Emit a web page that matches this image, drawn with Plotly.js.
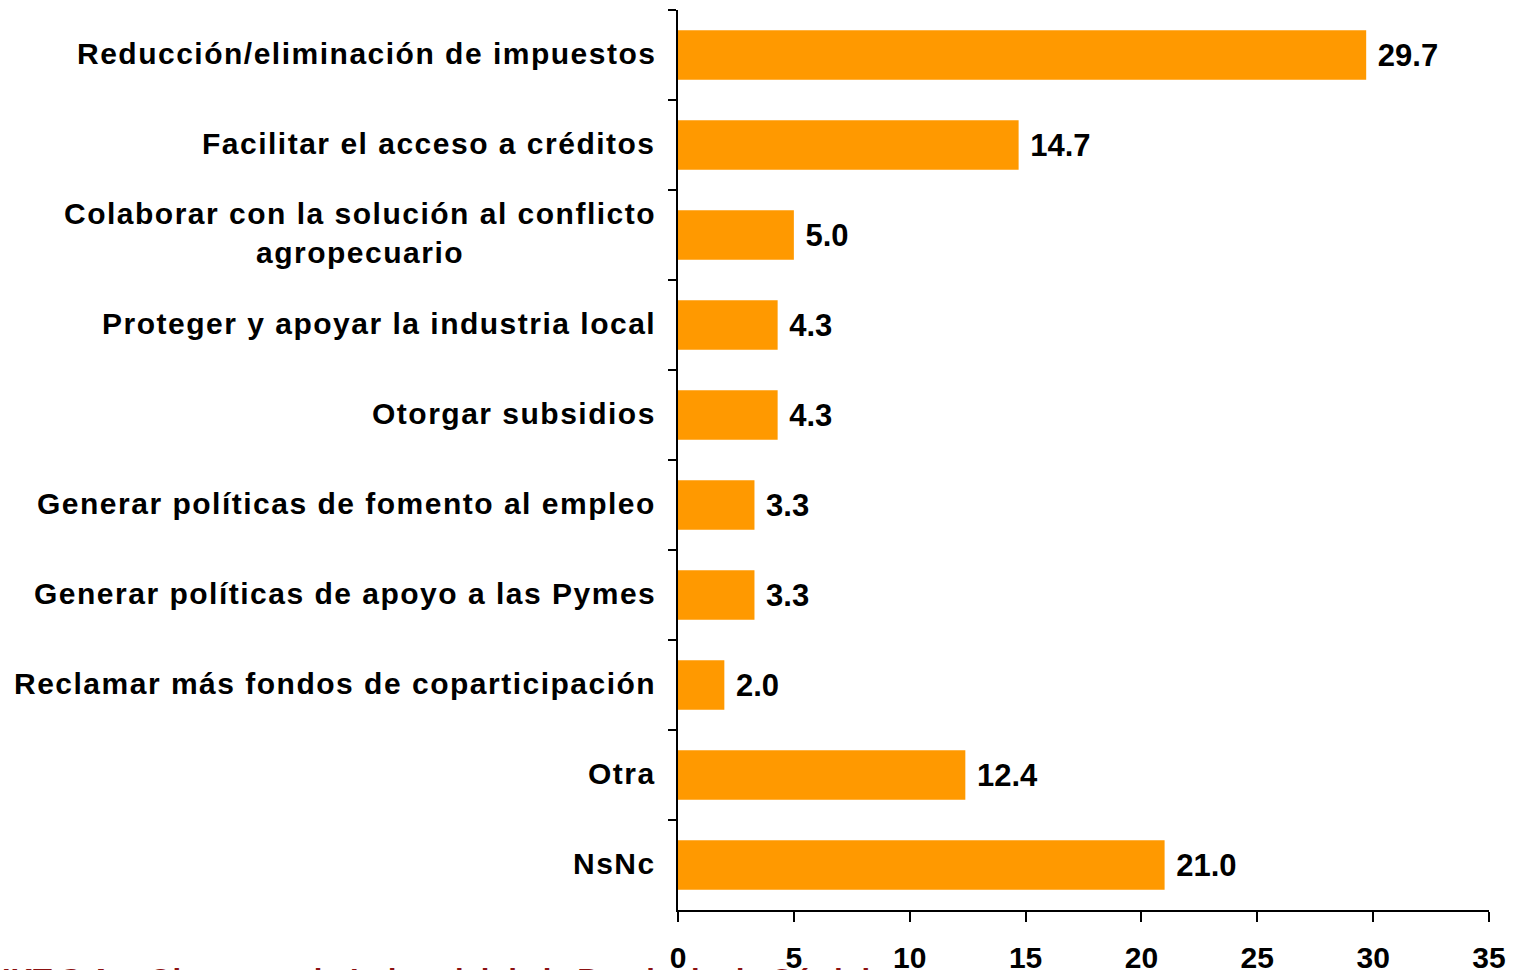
<!DOCTYPE html>
<html>
<head>
<meta charset="utf-8">
<script src="https://cdn.plot.ly/plotly-3.0.1.min.js"></script>
<style>
  html, body { margin: 0; padding: 0; background: #ffffff; }
  #chart { width: 1514px; height: 970px; }
</style>
</head>
<body>
<div id="chart"></div>
<script>
const categories = [
  "Reducción/eliminación de impuestos",
  "Facilitar el acceso a créditos",
  "Colaborar con la solución al conflicto agropecuario",
  "Proteger y apoyar la industria local",
  "Otorgar subsidios",
  "Generar políticas de fomento al empleo",
  "Generar políticas de apoyo a las Pymes",
  "Reclamar más fondos de coparticipación",
  "Otra",
  "NsNc"
];
const categoryLines = [
  ["Reducción/eliminación de impuestos"],
  ["Facilitar el acceso a créditos"],
  ["Colaborar con la solución al conflicto", "agropecuario"],
  ["Proteger y apoyar la industria local"],
  ["Otorgar subsidios"],
  ["Generar políticas de fomento al empleo"],
  ["Generar políticas de apoyo a las Pymes"],
  ["Reclamar más fondos de coparticipación"],
  ["Otra"],
  ["NsNc"]
];
const values = [29.7, 14.7, 5.0, 4.3, 4.3, 3.3, 3.3, 2.0, 12.4, 21.0];
const xTickValues = [0, 5, 10, 15, 20, 25, 30, 35];
const footerText = "IKT S.A. - Observatorio Industrial de la Provincia de Córdoba";

const FONT = "Liberation Sans, Arial, Helvetica, sans-serif";

const trace = {
  type: "bar",
  orientation: "h",
  y: categories,
  x: values,
  marker: { color: "#FF9900", line: { width: 0 } },
  texttemplate: " %{x:.1f}",
  textposition: "outside",
  constraintext: "none",
  cliponaxis: false,
  textfont: { family: FONT, size: 31, color: "#000000", weight: "bold" },
  hoverinfo: "skip"
};

const labelAnnotations = categories.map((c, i) => ({
  text: categoryLines[i].map(l => '<span style="letter-spacing:1.5px">' + l + '</span>').join("<br>"),
  xref: "paper", yref: "y",
  x: 0, y: c,
  xanchor: "right", yanchor: "middle",
  xshift: -20,
  yshift: 2,
  align: "center",
  showarrow: false,
  font: { family: FONT, size: 30, color: "#000000", weight: "bold" }
}));

const layout = {
  width: 1514,
  height: 970,
  margin: { l: 678, r: 25, t: 10, b: 60, pad: 0 },
  paper_bgcolor: "#ffffff",
  plot_bgcolor: "#ffffff",
  showlegend: false,
  bargap: 0.45,
  font: { family: FONT, color: "#000000" },
  xaxis: {
    range: [0, 35],
    tickvals: xTickValues,
    ticktext: xTickValues.map(String),
    showgrid: false,
    zeroline: false,
    showline: true,
    linecolor: "#000000",
    linewidth: 2,
    ticks: "outside",
    ticklen: 10,
    tickwidth: 2,
    tickcolor: "#000000",
    ticklabelstandoff: 10,
    tickfont: { family: FONT, size: 30, color: "#000000", weight: "bold" },
    fixedrange: true
  },
  yaxis: {
    type: "category",
    autorange: "reversed",
    showgrid: false,
    zeroline: false,
    showline: true,
    linecolor: "#000000",
    linewidth: 2,
    ticks: "outside",
    tickson: "boundaries",
    ticklen: 8,
    tickwidth: 2,
    tickcolor: "#000000",
    showticklabels: false,
    fixedrange: true
  },
  annotations: labelAnnotations.concat([{
    text: footerText,
    xref: "paper", yref: "paper",
    x: -0.836, y: -0.0566,
    xanchor: "left", yanchor: "top",
    showarrow: false,
    font: { family: FONT, size: 31, color: "#8B1111", weight: "bold" }
  }])
};

Plotly.newPlot("chart", [trace], layout, { displayModeBar: false, staticPlot: true });
</script>
</body>
</html>
